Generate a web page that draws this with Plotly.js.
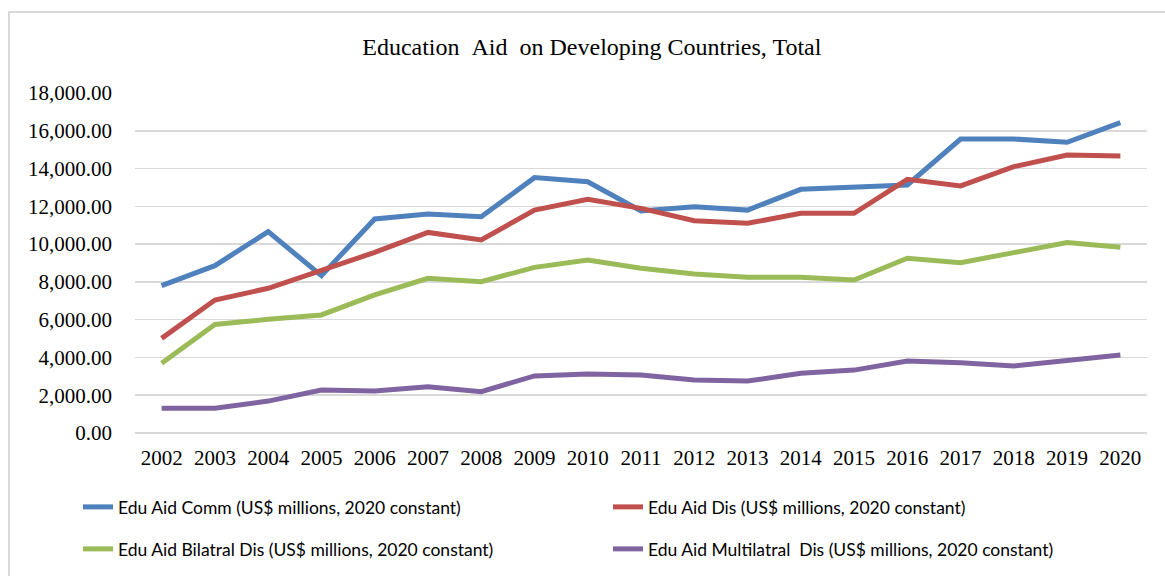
<!DOCTYPE html>
<html>
<head>
<meta charset="utf-8">
<script src="https://cdn.plot.ly/plotly-3.0.1.min.js"></script>
<style>
  html, body { margin: 0; padding: 0; background: #fff; }
  #wrap { position: relative; width: 1165px; height: 576px; overflow: hidden; }
  #chart { position: absolute; left: 0; top: 0; width: 1165px; height: 576px; }
  #frame { position: absolute; left: 8px; top: 11px; width: 1200px; height: 600px;
           border-left: 2px solid #d9d9d9; border-top: 2px solid #d9d9d9; pointer-events: none; }
</style>
</head>
<body>
<div id="wrap">
  <div id="chart"></div>
  <div id="frame"></div>
</div>
<script>
const years = ['2002','2003','2004','2005','2006','2007','2008','2009','2010','2011',
               '2012','2013','2014','2015','2016','2017','2018','2019','2020'];

const eduAidComm = [7800, 8860, 10660, 8330, 11330, 11590, 11450, 13520, 13300, 11750,
                    11980, 11800, 12900, 13040, 13130, 15565, 15565, 15390, 16430];
const eduAidDis = [5010, 7040, 7660, 8580, 9560, 10620, 10220, 11800, 12370, 11890,
                   11240, 11100, 11630, 11630, 13430, 13080, 14100, 14720, 14670];
const eduAidBilatralDis = [3690, 5750, 6020, 6250, 7310, 8190, 8010, 8770, 9160, 8720,
                           8420, 8240, 8240, 8100, 9250, 9020, 9550, 10080, 9830];
const eduAidMultilatralDis = [1310, 1310, 1690, 2280, 2220, 2450, 2190, 3020, 3120, 3070,
                              2810, 2750, 3160, 3330, 3810, 3720, 3550, 3810, 4130];

const seriesNames = [
  'Edu Aid Comm (US$ millions, 2020 constant)',
  'Edu Aid Dis (US$ millions, 2020 constant)',
  'Edu Aid Bilatral Dis (US$ millions, 2020 constant)',
  'Edu Aid Multilatral \u00a0Dis (US$ millions, 2020 constant)'
];
const colors = ['#4F81BD', '#C0504D', '#9BBB59', '#8064A2'];
const seriesValues = [eduAidComm, eduAidDis, eduAidBilatralDis, eduAidMultilatralDis];
const legendIds = ['legend', 'legend2', 'legend3', 'legend4'];

const traces = seriesValues.map((vals, i) => ({
  type: 'scatter',
  mode: 'lines',
  x: years,
  y: vals,
  name: seriesNames[i],
  legend: legendIds[i],
  line: { color: colors[i], width: 5, shape: 'linear' },
  hoverinfo: 'x+y+name'
}));

const legendFont = { family: 'Lato, "Open Sans", sans-serif', size: 17.5, color: '#000' };
const serif = '"Liberation Serif", "Times New Roman", serif';

function legendBox(xPx, yPx) {
  return {
    orientation: 'h',
    xref: 'container', yref: 'container',
    x: xPx / 1165, y: 1 - yPx / 576,
    xanchor: 'left', yanchor: 'middle',
    font: legendFont,
    bgcolor: 'rgba(0,0,0,0)',
    borderwidth: 0
  };
}

const layout = {
  width: 1165,
  height: 576,
  paper_bgcolor: 'rgba(0,0,0,0)',
  plot_bgcolor: '#fff',
  margin: { l: 135, r: 18, t: 93, b: 143 },
  title: {
    text: 'Education \u00a0Aid \u00a0on Developing Countries, Total',
    font: { family: serif, size: 24, color: '#000' },
    x: 0.508, xref: 'container', xanchor: 'center',
    y: 1 - 47 / 576, yref: 'container', yanchor: 'middle'
  },
  xaxis: {
    type: 'category',
    range: [-0.5, 18.5],
    showgrid: false,
    showline: false,
    zeroline: false,
    ticks: '',
    ticklabelstandoff: 10,
    tickfont: { family: serif, size: 21, color: '#000' }
  },
  yaxis: {
    range: [0, 18000],
    dtick: 2000,
    tick0: 0,
    tickformat: ',.2f',
    showgrid: true,
    gridcolor: '#d9d9d9',
    gridwidth: 1.5,
    zeroline: true,
    zerolinecolor: '#d9d9d9',
    zerolinewidth: 1.5,
    showline: false,
    ticks: '',
    ticklabelstandoff: 22,
    tickfont: { family: serif, size: 21, color: '#000' }
  },
  showlegend: true,
  legend: legendBox(78, 507),
  legend2: legendBox(608, 507),
  legend3: legendBox(78, 549),
  legend4: legendBox(608, 549)
};

Plotly.newPlot('chart', traces, layout, { displayModeBar: false, staticPlot: true });
</script>
</body>
</html>
